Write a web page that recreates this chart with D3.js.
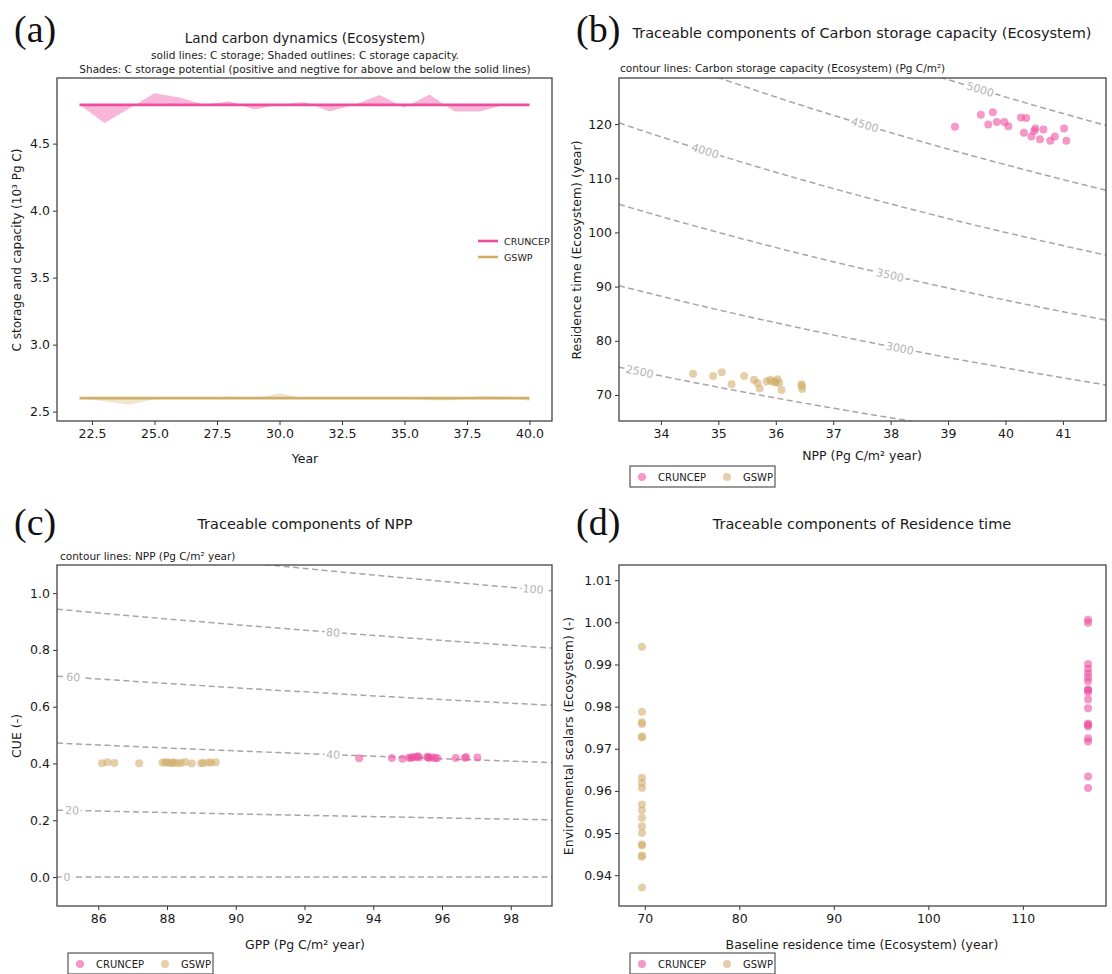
<!DOCTYPE html>
<html lang="en">
<head>
<meta charset="UTF-8">
<title>Traceable components</title>
<script src="https://d3js.org/d3.v7.min.js"></script>
<style>
  body { margin: 0; background: #fff; }
  text { font-family: "DejaVu Sans", sans-serif; fill: #1a1a1a; }
  .tick text { font-size: 12.5px; fill: #1a1a1a; }
  .tick line { stroke: #333; }
  .letter { font-family: "Liberation Serif", "DejaVu Serif", serif; font-size: 38px; fill: #111; }
</style>
</head>
<body>
<script>
    // ---- panel (a): land carbon dynamics ----
    years = [22, 23, 24, 25, 26, 27, 28, 29, 30, 31, 32, 33, 34, 35, 36, 37, 38, 39, 40]
    storageCRU = [4.79, 4.79, 4.79, 4.79, 4.79, 4.79, 4.79, 4.79, 4.79, 4.79, 4.79, 4.79, 4.79, 4.79, 4.79, 4.79, 4.79, 4.79, 4.79]
    capacityCRU = [4.79, 4.655, 4.765, 4.876, 4.844, 4.79, 4.817, 4.755, 4.79, 4.81, 4.74, 4.79, 4.863, 4.77, 4.866, 4.74, 4.74, 4.79, 4.79]
    storageGSWP = [2.60, 2.60, 2.60, 2.60, 2.60, 2.60, 2.60, 2.60, 2.60, 2.60, 2.60, 2.60, 2.60, 2.60, 2.60, 2.60, 2.60, 2.60, 2.60]
    capacityGSWP = [2.60, 2.578, 2.552, 2.592, 2.607, 2.60, 2.615, 2.60, 2.638, 2.60, 2.60, 2.60, 2.60, 2.60, 2.585, 2.585, 2.615, 2.612, 2.58]

    // ---- panel (b): NPP vs residence time ----
    nppCRU = [39.12, 39.57, 39.78, 39.70, 39.85, 39.98, 40.05, 40.27, 40.36, 40.32, 40.45, 40.52, 40.50, 40.66, 40.60, 40.78, 40.86, 41.02, 41.06]
    rtCRU = [119.5, 121.7, 122.2, 119.9, 120.4, 120.4, 119.6, 121.2, 121.1, 118.4, 117.7, 119.2, 118.7, 119.0, 117.2, 116.9, 117.7, 119.2, 116.9]
    nppGSWP = [34.56, 34.91, 35.06, 35.23, 35.45, 35.62, 35.68, 35.72, 35.84, 35.90, 35.93, 35.99, 36.03, 36.06, 36.10, 36.45, 36.46, 36.45, 36.00]
    rtGSWP = [73.9, 73.5, 74.2, 72.0, 73.5, 72.8, 72.2, 71.2, 72.5, 72.8, 72.5, 72.5, 72.9, 72.2, 70.9, 71.7, 71.1, 72.0, 72.3]
    capLevels = [2500, 3000, 3500, 4000, 4500, 5000]
    capLabelAt = [33.63, 38.16, 37.99, 34.77, 37.55, 39.56]

    // ---- panel (c): GPP vs CUE ----
    gppCRU = [93.59, 94.54, 94.85, 95.04, 95.14, 95.24, 95.33, 95.57, 95.62, 95.72, 95.86, 96.40, 96.67, 97.03, 95.30, 95.60, 95.80, 96.70, 95.10]
    cueCRU = [0.418, 0.419, 0.417, 0.420, 0.422, 0.423, 0.421, 0.424, 0.420, 0.422, 0.419, 0.419, 0.420, 0.421, 0.425, 0.421, 0.418, 0.422, 0.420]
    gppGSWP = [86.11, 86.27, 86.47, 87.19, 87.87, 88.01, 88.16, 88.31, 88.53, 88.72, 88.99, 89.05, 89.28, 89.42, 87.95, 88.10, 88.20, 88.40, 89.20]
    cueGSWP = [0.401, 0.404, 0.402, 0.401, 0.403, 0.404, 0.402, 0.401, 0.405, 0.400, 0.401, 0.402, 0.403, 0.404, 0.403, 0.402, 0.404, 0.402, 0.403]
    nppLevels = [0, 20, 40, 60, 80, 100]
    nppLabelAt = [85.09, 85.24, 92.83, 85.27, 92.83, 98.65]

    // ---- panel (d): baseline residence time vs environmental scalars ----
    baseCRU = [116.9, 116.9, 116.9, 116.9, 116.9, 116.9, 116.9, 116.9, 116.9, 116.9, 116.9, 116.9, 116.9, 116.9, 116.9, 116.9, 116.9, 116.9, 116.9]
    envCRU = [1.0006, 0.9999, 0.9901, 0.9889, 0.9879, 0.9869, 0.9860, 0.9840, 0.9834, 0.9817, 0.9796, 0.9757, 0.9753, 0.9725, 0.9717, 0.9634, 0.9607, 0.9840, 0.9760]
    baseGSWP = [69.7, 69.7, 69.7, 69.7, 69.7, 69.7, 69.7, 69.7, 69.7, 69.7, 69.7, 69.7, 69.7, 69.7, 69.7, 69.7, 69.7, 69.7, 69.7]
    envGSWP = [0.9942, 0.9788, 0.9763, 0.9759, 0.9729, 0.9727, 0.9631, 0.9619, 0.9607, 0.9568, 0.9554, 0.9536, 0.9516, 0.9500, 0.9473, 0.9471, 0.9447, 0.9444, 0.9371]

    seriesNames = ["CRUNCEP", "GSWP"]

    pink = "#ee4c9f"
    gold = "#d2ad6a"
    colors = [pink, gold]

    svg = d3.select("body")
        .append("svg")
        .attr("width", 1112)
        .attr("height", 974)

    //draws ticks, tick labels and the frame of one panel
    function drawAxes(box, x, y, xTicks, yTicks, xFmt, yFmt) {
        svg.append("g")
            .attr("transform", "translate(0," + box.bottom + ")")
            .call(d3.axisBottom(x).tickValues(xTicks).tickFormat(d3.format(xFmt)).tickSize(4).tickPadding(4).tickSizeOuter(0))
            .call(g => g.select(".domain").remove())
        svg.append("g")
            .attr("transform", "translate(" + box.left + ",0)")
            .call(d3.axisLeft(y).tickValues(yTicks).tickFormat(d3.format(yFmt)).tickSize(4).tickPadding(3).tickSizeOuter(0))
            .call(g => g.select(".domain").remove())
        svg.append("rect")
            .attr("x", box.left).attr("y", box.top)
            .attr("width", box.right - box.left).attr("height", box.bottom - box.top)
            .attr("fill", "none").attr("stroke", "#444").attr("stroke-width", 1.3)
    }

    function clipFor(id, box) {
        svg.append("clipPath").attr("id", id)
            .append("rect")
            .attr("x", box.left).attr("y", box.top)
            .attr("width", box.right - box.left).attr("height", box.bottom - box.top)
        return "url(#" + id + ")"
    }

    function label(txt, x, y, size, opts) {
        opts = opts || {}
        t = svg.append("text")
            .attr("x", x).attr("y", y)
            .attr("font-size", size)
            .attr("text-anchor", opts.anchor || "middle")
            .text(txt)
        if (opts.rotate) t.attr("transform", "rotate(-90," + x + "," + y + ")")
        return t
    }

    // contour lines of level = xv * yv, dashed, with inline labels
    function drawContours(box, x, y, levels, labelAt, clip) {
        g = svg.append("g").attr("clip-path", clip)
        xs = d3.range(0, 121).map(i => x.invert(box.left + i * (box.right - box.left) / 120))
        line = d3.line().x(d => x(d[0])).y(d => y(d[1]))
        levels.forEach((c, i) => {
            g.append("path")
                .attr("d", line(xs.map(v => [v, c / v])))
                .attr("fill", "none")
                .attr("stroke", "#a6a6a6")
                .attr("stroke-width", 1.5)
                .attr("stroke-dasharray", "6,3.5")
        })
        levels.forEach((c, i) => {
            lx = labelAt[i]
            px = x(lx), py = y(c / lx)
            ang = Math.atan2(y(c / (lx + 0.05)) - y(c / (lx - 0.05)), x(lx + 0.05) - x(lx - 0.05)) * 180 / Math.PI
            svg.append("text")
                .attr("x", px).attr("y", py)
                .attr("dy", "0.35em")
                .attr("text-anchor", "middle")
                .attr("font-size", 11)
                .attr("transform", "rotate(" + ang + "," + px + "," + py + ")")
                .attr("stroke", "#fff").attr("stroke-width", 5)
                .attr("paint-order", "stroke")
                .style("fill", "#b3b3b3")
                .text(c)
        })
    }

    function drawPoints(xv, yv, color, x, y) {
        svg.append("g").selectAll("circle")
            .data(xv.map((d, i) => [d, yv[i]]))
            .join("circle")
            .attr("cx", d => x(d[0]))
            .attr("cy", d => y(d[1]))
            .attr("r", 4)
            .attr("fill", color)
            .attr("fill-opacity", 0.58)
    }

    function pointLegend(left, top) {
        svg.append("rect")
            .attr("x", left).attr("y", top).attr("width", 145).attr("height", 21)
            .attr("fill", "#fff").attr("stroke", "#555").attr("stroke-width", 1.2)
        seriesNames.forEach((n, i) => {
            svg.append("circle")
                .attr("cx", left + 12 + i * 85).attr("cy", top + 11).attr("r", 4)
                .attr("fill", colors[i]).attr("fill-opacity", 0.58)
            label(n, left + 28 + i * 85, top + 15, 10, {anchor: "start"})
        })
    }

    // ================= (a) =================
    boxA = {left: 57, right: 552, top: 78, bottom: 421}
    xA = d3.scaleLinear().domain([21.1, 40.9]).range([boxA.left, boxA.right])
    yA = d3.scaleLinear().domain([2.43, 4.99]).range([boxA.bottom, boxA.top])

    area = d3.area().x(d => xA(d[0])).y0(d => yA(d[1])).y1(d => yA(d[2]))
    lineA = d3.line().x(d => xA(d[0])).y(d => yA(d[1]))
    aSeries = [[storageCRU, capacityCRU], [storageGSWP, capacityGSWP]]
    aSeries.forEach((s, k) => {
        pts = years.map((yr, i) => [yr, s[0][i], s[1][i]])
        svg.append("path").attr("d", area(pts))
            .attr("fill", colors[k]).attr("fill-opacity", k == 0 ? 0.4 : 0.3)
        svg.append("path").attr("d", lineA(pts))
            .attr("fill", "none").attr("stroke", colors[k]).attr("stroke-width", 2.8)
    })
    drawAxes(boxA, xA, yA, [22.5, 25, 27.5, 30, 32.5, 35, 37.5, 40], [2.5, 3, 3.5, 4, 4.5], ".1f", ".1f")

    seriesNames.forEach((n, i) => {
        svg.append("line")
            .attr("x1", 478).attr("x2", 498).attr("y1", 241 + i * 16).attr("y2", 241 + i * 16)
            .attr("stroke", colors[i]).attr("stroke-width", 2.6)
        label(n, 504, 245 + i * 16, 9.5, {anchor: "start"})
    })

    label("(a)", 14, 42, 38, {anchor: "start"}).attr("class", "letter")
    label("Land carbon dynamics (Ecosystem)", 305, 43, 13.5)
    label("solid lines: C storage; Shaded outlines: C storage capacity.", 305, 59, 10.5)
    label("Shades: C storage potential (positive and negtive for above and below the solid lines)", 305, 73, 10.5)
    label("C storage and capacity (10³ Pg C)", 21, 250, 12, {rotate: true})
    label("Year", 305, 463, 12.5)

    // ================= (b) =================
    boxB = {left: 619, right: 1106, top: 78, bottom: 421}
    xB = d3.scaleLinear().domain([33.27, 41.75]).range([boxB.left, boxB.right])
    yB = d3.scaleLinear().domain([65.2, 128.5]).range([boxB.bottom, boxB.top])
    drawContours(boxB, xB, yB, capLevels, capLabelAt, clipFor("clipB", boxB))
    drawPoints(nppCRU, rtCRU, pink, xB, yB)
    drawPoints(nppGSWP, rtGSWP, gold, xB, yB)
    drawAxes(boxB, xB, yB, [34, 35, 36, 37, 38, 39, 40, 41], [70, 80, 90, 100, 110, 120], "d", "d")
    pointLegend(630, 466)

    label("(b)", 576, 42, 38, {anchor: "start"}).attr("class", "letter")
    label("Traceable components of Carbon storage capacity (Ecosystem)", 862, 38, 14.5)
    label("contour lines: Carbon storage capacity (Ecosystem) (Pg C/m²)", 620, 72, 10.5, {anchor: "start"})
    label("Residence time (Ecosystem) (year)", 581, 250, 12.5, {rotate: true})
    label("NPP (Pg C/m² year)", 862, 460, 12.5)

    // ================= (c) =================
    boxC = {left: 57, right: 552, top: 565, bottom: 906}
    xC = d3.scaleLinear().domain([84.8, 99.2]).range([boxC.left, boxC.right])
    yC = d3.scaleLinear().domain([-0.102, 1.099]).range([boxC.bottom, boxC.top])
    drawContours(boxC, xC, yC, nppLevels, nppLabelAt, clipFor("clipC", boxC))
    drawPoints(gppCRU, cueCRU, pink, xC, yC)
    drawPoints(gppGSWP, cueGSWP, gold, xC, yC)
    drawAxes(boxC, xC, yC, [86, 88, 90, 92, 94, 96, 98], [0, 0.2, 0.4, 0.6, 0.8, 1.0], "d", ".1f")
    pointLegend(68, 953)

    label("(c)", 14, 535, 38, {anchor: "start"}).attr("class", "letter")
    label("Traceable components of NPP", 305, 529, 14.5)
    label("contour lines: NPP (Pg C/m² year)", 60, 560, 10.5, {anchor: "start"})
    label("CUE (-)", 21, 736, 12.5, {rotate: true})
    label("GPP (Pg C/m² year)", 305, 949, 12.5)

    // ================= (d) =================
    boxD = {left: 619, right: 1106, top: 565, bottom: 906}
    xD = d3.scaleLinear().domain([67.27, 118.8]).range([boxD.left, boxD.right])
    yD = d3.scaleLinear().domain([0.9327, 1.0136]).range([boxD.bottom, boxD.top])
    drawPoints(baseCRU, envCRU, pink, xD, yD)
    drawPoints(baseGSWP, envGSWP, gold, xD, yD)
    drawAxes(boxD, xD, yD, [70, 80, 90, 100, 110], [0.94, 0.95, 0.96, 0.97, 0.98, 0.99, 1.00, 1.01], "d", ".2f")
    pointLegend(630, 953)

    label("(d)", 576, 535, 38, {anchor: "start"}).attr("class", "letter")
    label("Traceable components of Residence time", 862, 529, 14.5)
    label("Environmental scalars (Ecosystem) (-)", 573, 736, 12.5, {rotate: true})
    label("Baseline residence time (Ecosystem) (year)", 862, 949, 12.5)
</script>
</body>
</html>
